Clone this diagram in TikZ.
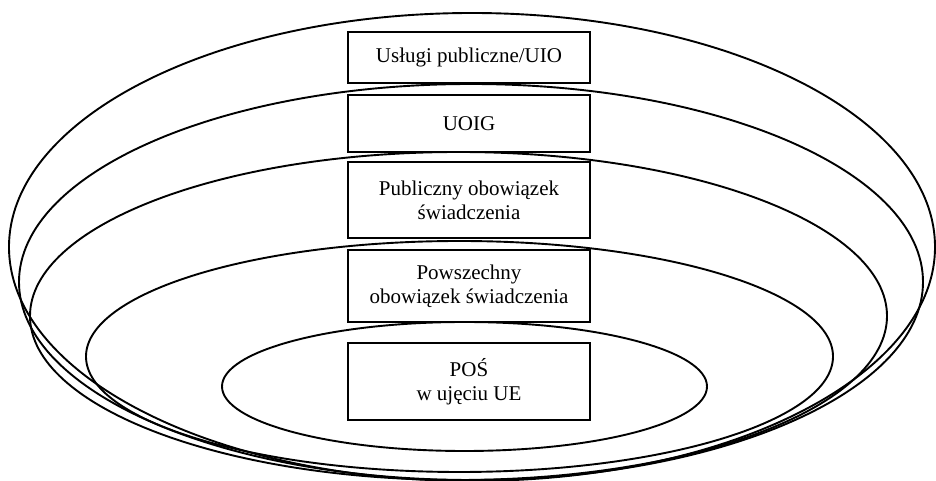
\documentclass[tikz,border=0pt]{standalone}
\usepackage{fontspec}
\setmainfont{Liberation Serif}
\usepackage{tikz}

\begin{document}
\begin{tikzpicture}[x=1pt, y=1pt]
        \tikzstyle{every node}=[font=\fontsize{21}{24}\selectfont]
        \tikzstyle{level}=[draw, line width=1.6pt, fill=white, align=center, minimum width=242pt, inner sep=2pt]
        \tikzstyle{ring}=[line width=1.9pt]
        \useasboundingbox (0,0) rectangle (936,481);
        \draw [ring] (472,234) ellipse [x radius=463pt, y radius=234pt];
        \draw [ring] (471,199) ellipse [x radius=452pt, y radius=198pt];
        \draw [ring] (458.5,165) ellipse [x radius=428.5pt, y radius=164pt];
        \draw [ring] (459.5,124.5) ellipse [x radius=373.5pt, y radius=115.5pt];
        \draw [ring] (464.5,94.5) ellipse [x radius=242.5pt, y radius=64.5pt];
        \node [level, minimum height=51pt] (uio) at (469,423.5) {Usługi publiczne/UIO};
        \node [level, minimum height=57pt] (uoig) at (469,357.5) {UOIG};
        \node [level, minimum height=76pt] (pos) at (469,281) {Publiczny obowiązek\\świadczenia};
        \node [level, minimum height=72pt] (powos) at (469,195) {Powszechny\\obowiązek świadczenia};
        \node [level, minimum height=77pt] (posue) at (469,99.5) {POŚ\\w ujęciu UE};
    \end{tikzpicture}
\end{document}
